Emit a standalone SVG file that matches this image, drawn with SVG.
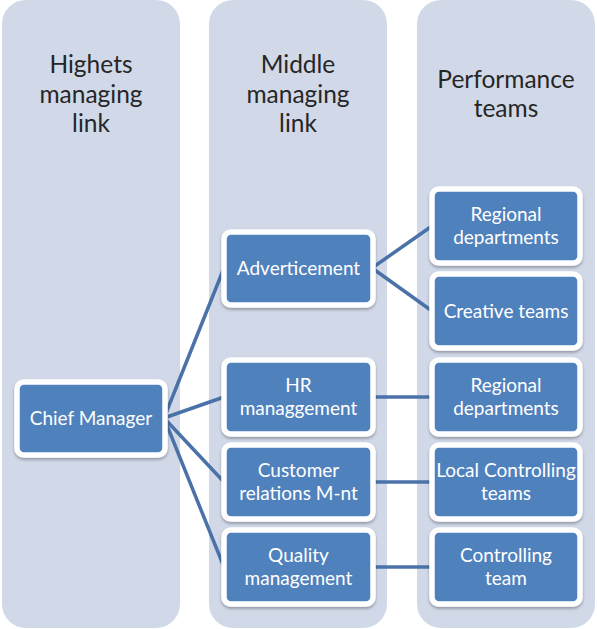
<svg xmlns="http://www.w3.org/2000/svg" width="597" height="629" viewBox="0 0 597 629">
<defs>
<style>
.col{fill:#D1D9E8;}
.hd{font-family:Lato,"Liberation Sans",sans-serif;font-size:24.5px;fill:#262626;text-anchor:middle;}
.box{fill:#4F81BD;stroke:#FFFFFF;stroke-width:5.5;filter:url(#sh);}
.tx{font-family:Lato,"Liberation Sans",sans-serif;font-size:19px;fill:#FFFFFF;text-anchor:middle;}
.ln{stroke:#4A72A8;stroke-width:3.5;fill:none;}
</style>
<filter id="sh" x="-10%" y="-10%" width="120%" height="130%">
<feDropShadow dx="0" dy="2" stdDeviation="1.5" flood-color="#000" flood-opacity="0.3"/>
</filter>
</defs>
<g id="columns">
<rect class="col" x="2" y="0" width="178" height="628" rx="24"/>
<rect class="col" x="209" y="0" width="178" height="628" rx="24"/>
<rect class="col" x="417" y="0" width="178" height="628" rx="24"/>
<text class="hd" x="91"><tspan x="91" y="73">Highets</tspan><tspan x="91" y="103">managing</tspan><tspan x="91" y="132">link</tspan></text>
<text class="hd" x="298"><tspan x="298" y="73">Middle</tspan><tspan x="298" y="103">managing</tspan><tspan x="298" y="132">link</tspan></text>
<text class="hd" x="506"><tspan x="506" y="88">Performance</tspan><tspan x="506" y="117">teams</tspan></text>
</g>
<g id="connectors">
<line class="ln" x1="164" y1="418" x2="224" y2="268"/>
<line class="ln" x1="164" y1="418" x2="224" y2="397"/>
<line class="ln" x1="164" y1="418" x2="224" y2="482"/>
<line class="ln" x1="164" y1="418" x2="224" y2="567"/>
<line class="ln" x1="372" y1="268" x2="432" y2="226"/>
<line class="ln" x1="372" y1="268" x2="432" y2="311"/>
<line class="ln" x1="372" y1="397" x2="432" y2="397"/>
<line class="ln" x1="372" y1="482" x2="432" y2="482"/>
<line class="ln" x1="372" y1="567" x2="432" y2="567"/>
</g>
<g id="chief">
<rect class="box" x="17" y="382" width="148" height="73" rx="7"/>
<text class="tx" x="91" y="425">Chief Manager</text>
</g>
<g id="advert">
<rect class="box" x="224" y="232" width="149" height="73" rx="7"/>
<text class="tx" x="298.5" y="275">Adverticement</text>
</g>
<g id="hr">
<rect class="box" x="224" y="360" width="149" height="74" rx="7"/>
<text class="tx"><tspan x="298.5" y="392">HR</tspan><tspan x="298.5" y="415">managgement</tspan></text>
</g>
<g id="customer">
<rect class="box" x="224" y="445" width="149" height="74" rx="7"/>
<text class="tx"><tspan x="298.5" y="477">Customer</tspan><tspan x="298.5" y="500">relations M-nt</tspan></text>
</g>
<g id="quality">
<rect class="box" x="224" y="530" width="149" height="74" rx="7"/>
<text class="tx"><tspan x="298.5" y="562">Quality</tspan><tspan x="298.5" y="585">management</tspan></text>
</g>
<g id="regional1">
<rect class="box" x="432" y="189" width="148" height="74" rx="7"/>
<text class="tx"><tspan x="506" y="221">Regional</tspan><tspan x="506" y="244">departments</tspan></text>
</g>
<g id="creative">
<rect class="box" x="432" y="274" width="148" height="74" rx="7"/>
<text class="tx" x="506" y="318">Creative teams</text>
</g>
<g id="regional2">
<rect class="box" x="432" y="360" width="148" height="74" rx="7"/>
<text class="tx"><tspan x="506" y="392">Regional</tspan><tspan x="506" y="415">departments</tspan></text>
</g>
<g id="local">
<rect class="box" x="432" y="445" width="148" height="74" rx="7"/>
<text class="tx"><tspan x="506" y="477">Local Controlling</tspan><tspan x="506" y="500">teams</tspan></text>
</g>
<g id="controlling">
<rect class="box" x="432" y="530" width="148" height="74" rx="7"/>
<text class="tx"><tspan x="506" y="562">Controlling</tspan><tspan x="506" y="585">team</tspan></text>
</g>
</svg>
